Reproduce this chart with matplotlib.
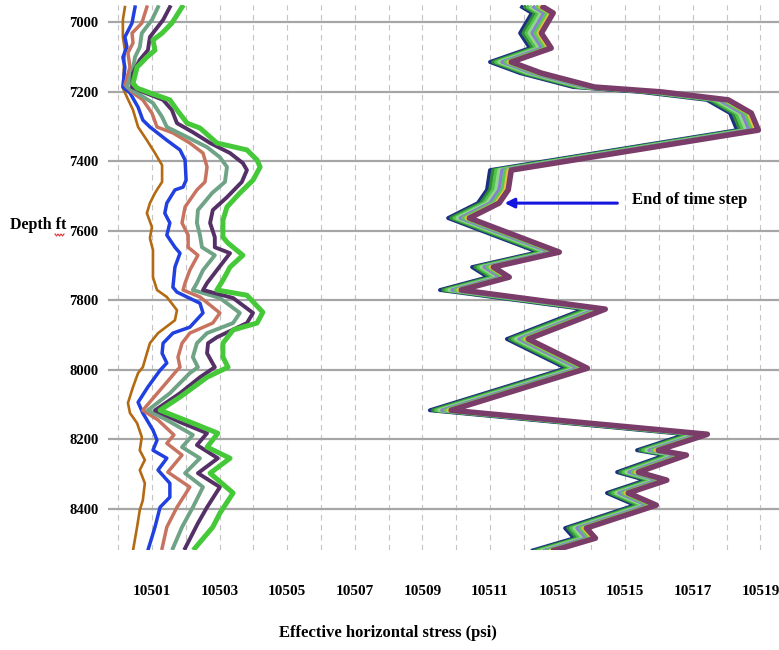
import matplotlib
matplotlib.use("Agg")
import matplotlib.pyplot as plt
from matplotlib.lines import Line2D
import numpy as np

plt.rcParams['font.family'] = ['Liberation Serif', 'DejaVu Serif']
plt.rcParams['font.weight'] = 'bold'

# stress profiles during the early time steps (left group)
depth_brown = [6957, 6994, 7043, 7081, 7130, 7190, 7216, 7253, 7302, 7340, 7377, 7412, 7460, 7478,
               7492, 7521, 7550, 7590, 7622, 7656, 7734, 7771, 7791, 7829, 7858, 7895, 7924, 7953,
               7993, 8010, 8050, 8096, 8125, 8154, 8194, 8232, 8260, 8289, 8327, 8376, 8404, 8453, 8520]
stress_brown = [10500.20, 10500.14, 10500.14, 10500.20, 10500.17, 10500.14, 10500.26, 10500.44,
                10500.59, 10500.85, 10501.09, 10501.30, 10501.30, 10501.18, 10501.09, 10500.94,
                10500.85, 10501.00, 10500.94, 10501.03, 10501.03, 10501.15, 10501.44, 10501.74,
                10501.68, 10501.18, 10500.94, 10500.85, 10500.73, 10500.59, 10500.44, 10500.29,
                10500.35, 10500.56, 10500.70, 10500.64, 10500.79, 10500.64, 10500.79, 10500.73,
                10500.64, 10500.56, 10500.44]

depth_blue = [6957, 7003, 7043, 7072, 7101, 7130, 7187, 7204, 7245, 7282, 7302, 7340, 7368, 7397,
              7455, 7475, 7483, 7521, 7550, 7578, 7613, 7648, 7665, 7705, 7763, 7777, 7809, 7837,
              7878, 7895, 7924, 7953, 7981, 8002, 8050, 8094, 8125, 8174, 8203, 8232, 8255, 8289,
              8327, 8367, 8396, 8453, 8520]
stress_blue = [10500.50, 10500.41, 10500.20, 10500.26, 10500.14, 10500.20, 10500.14, 10500.35,
               10500.59, 10500.73, 10500.94, 10501.44, 10501.83, 10501.98, 10502.01, 10501.92,
               10501.68, 10501.44, 10501.38, 10501.53, 10501.44, 10501.68, 10501.83, 10501.68,
               10501.62, 10501.74, 10502.42, 10502.51, 10502.12, 10501.62, 10501.33, 10501.30,
               10501.44, 10501.24, 10500.88, 10500.59, 10500.73, 10501.03, 10501.15, 10501.03,
               10501.44, 10501.18, 10501.53, 10501.53, 10501.24, 10501.09, 10500.88]

depth_salmon = [6957, 7003, 7032, 7060, 7089, 7130, 7181, 7204, 7224, 7262, 7302, 7319, 7348, 7377,
                7417, 7460, 7483, 7532, 7578, 7613, 7648, 7671, 7714, 7751, 7771, 7791, 7837, 7866,
                7895, 7924, 7964, 7993, 8002, 8059, 8117, 8145, 8188, 8212, 8246, 8295, 8338, 8396,
                8453, 8514]
stress_salmon = [10500.85, 10500.70, 10500.41, 10500.44, 10500.29, 10500.35, 10500.20, 10500.44,
                 10500.73, 10501.00, 10501.15, 10501.62, 10502.12, 10502.51, 10502.63, 10502.57,
                 10502.33, 10501.98, 10501.89, 10502.07, 10502.07, 10502.36, 10502.12, 10501.98,
                 10501.92, 10502.42, 10503.01, 10502.80, 10502.12, 10501.89, 10501.77, 10501.83,
                 10501.74, 10501.24, 10500.73, 10501.18, 10501.65, 10501.44, 10501.89, 10501.47,
                 10502.12, 10501.74, 10501.44, 10501.30]

depth_sea = [6957, 6994, 7032, 7072, 7101, 7147, 7187, 7204, 7233, 7273, 7302, 7331, 7360, 7389,
             7417, 7460, 7492, 7541, 7578, 7613, 7648, 7671, 7714, 7751, 7771, 7794, 7837, 7866,
             7895, 7924, 7964, 7993, 8010, 8068, 8117, 8145, 8188, 8223, 8255, 8298, 8338, 8396,
             8453, 8514]
stress_sea = [10501.18, 10501.00, 10500.70, 10500.64, 10500.50, 10500.41, 10500.26, 10500.56,
              10501.03, 10501.30, 10501.44, 10502.04, 10502.63, 10503.01, 10503.22, 10503.16,
              10502.78, 10502.36, 10502.33, 10502.42, 10502.48, 10502.86, 10502.51, 10502.33,
              10502.21, 10503.01, 10503.60, 10503.40, 10502.63, 10502.33, 10502.21, 10502.36,
              10502.12, 10501.53, 10500.88, 10501.44, 10502.21, 10501.89, 10502.42, 10501.98,
              10502.51, 10502.21, 10501.89, 10501.62]

depth_purple = [6957, 6994, 7043, 7081, 7109, 7147, 7187, 7201, 7224, 7253, 7291, 7317, 7348, 7377,
                7406, 7426, 7460, 7504, 7541, 7578, 7619, 7648, 7665, 7714, 7751, 7771, 7794, 7837,
                7866, 7907, 7924, 7953, 7993, 8022, 8068, 8117, 8151, 8183, 8217, 8255, 8298, 8338,
                8396, 8442, 8514]
stress_purple = [10501.53, 10501.33, 10500.94, 10500.88, 10500.64, 10500.44, 10500.41, 10500.73,
                 10501.33, 10501.59, 10501.74, 10502.21, 10502.72, 10503.31, 10503.69, 10503.81,
                 10503.66, 10503.22, 10502.80, 10502.72, 10502.86, 10502.86, 10503.31, 10502.92,
                 10502.63, 10502.51, 10503.40, 10503.99, 10503.81, 10502.92, 10502.66, 10502.63,
                 10502.86, 10502.42, 10501.83, 10501.09, 10501.83, 10502.63, 10502.33, 10502.95,
                 10502.36, 10503.01, 10502.63, 10502.36, 10501.98]

depth_green = [6957, 7003, 7032, 7052, 7081, 7101, 7130, 7176, 7190, 7204, 7224, 7253, 7291, 7305,
               7348, 7368, 7397, 7417, 7455, 7492, 7532, 7570, 7619, 7636, 7671, 7705, 7743, 7771,
               7786, 7835, 7866, 7886, 7924, 7964, 7993, 8022, 8079, 8117, 8154, 8183, 8223, 8255,
               8298, 8355, 8413, 8453, 8514]
stress_green = [10501.89, 10501.59, 10501.30, 10501.03, 10501.09, 10500.85, 10500.56, 10500.44,
                10500.56, 10500.94, 10501.53, 10501.74, 10502.04, 10502.42, 10502.92, 10503.81,
                10504.11, 10504.20, 10503.99, 10503.60, 10503.22, 10503.10, 10503.10, 10503.25,
                10503.69, 10503.31, 10503.10, 10502.92, 10503.81, 10504.28, 10504.11, 10503.40,
                10503.10, 10503.10, 10503.25, 10502.63, 10501.83, 10501.24, 10502.21, 10502.95,
                10502.63, 10503.31, 10502.72, 10503.40, 10503.01, 10502.80, 10502.27]

# profile at the end of the time step (right group); later steps shift slightly right
depth_end = [6957, 6974, 7032, 7075, 7115, 7147, 7187, 7201, 7224, 7262, 7311, 7426, 7483, 7521,
             7564, 7662, 7705, 7734, 7771, 7826, 7912, 7996, 8117, 8186, 8232, 8246, 8295, 8318,
             8355, 8390, 8456, 8485, 8520]
stress_end = [10511.95, 10512.24, 10511.89, 10512.18, 10511.00, 10511.89, 10513.46, 10515.44,
              10517.42, 10518.10, 10518.31, 10511.00, 10510.91, 10510.64, 10509.76, 10512.42,
              10510.47, 10510.94, 10509.52, 10513.78, 10511.50, 10513.25, 10509.22, 10516.80,
              10515.35, 10516.18, 10514.76, 10515.60, 10514.46, 10515.29, 10513.22, 10513.49,
              10512.27]
end_shifts = [0.0, 0.09, 0.18, 0.27, 0.36, 0.45, 0.54, 0.63]

depth_ticks = [7000, 7200, 7400, 7600, 7800, 8000, 8200, 8400]
stress_ticks = list(range(10500, 10520))

left_group = [
    (depth_brown, stress_brown, '#b36a12', 1.9),
    (depth_blue, stress_blue, '#2040e0', 2.5),
    (depth_salmon, stress_salmon, '#c77360', 2.5),
    (depth_sea, stress_sea, '#6fa385', 2.8),
    (depth_purple, stress_purple, '#553066', 2.8),
    (depth_green, stress_green, '#45c938', 3.6),
]
end_colors = ['#1d2f80', '#2f8a3a', '#52c24a', '#8fd88a', '#8a7fd0', '#5cc85c', '#e8c13c', '#7a3c68']
end_widths = [2.8, 2.6, 2.6, 2.6, 2.6, 2.6, 2.6, 4.0]

fig = plt.figure(figsize=(7.79, 6.5), dpi=100)
ax = fig.add_axes([108 / 779, 1 - 550 / 650, 1 - 108 / 779, 545 / 650])

for d, s, c, lw in left_group:
    ax.plot(s, d, color=c, lw=lw, solid_joinstyle='round', zorder=3)

for shift, c, lw in zip(end_shifts, end_colors, end_widths):
    ax.plot(np.array(stress_end) + shift, depth_end, color=c, lw=lw, zorder=3)

ax.set_xlim(10499.70, 10519.55)
ax.set_ylim(8519, 6951)

ax.set_yticks(depth_ticks)
ax.set_yticklabels([str(d) for d in depth_ticks], fontsize=10.5, fontweight='bold')
ax.set_xticks(stress_ticks)
ax.set_xticklabels([str(v) if v % 2 else '' for v in stress_ticks], fontsize=11, fontweight='bold')
ax.tick_params(axis='x', length=0, pad=25)
ax.tick_params(axis='y', length=0, pad=7)

ax.set_axisbelow(True)
ax.grid(axis='y', color='#a6a6a6', lw=1.6, ls='-')
ax.grid(axis='x', color='#c4c4c4', lw=0.8, ls=(0, (5, 4)))
for sp in ax.spines.values():
    sp.set_visible(False)

ax.annotate('', xy=(10511.35, 7521), xytext=(10514.85, 7521),
            arrowprops=dict(arrowstyle='-|>', color='#1515e0', lw=2.2, mutation_scale=14))
ax.text(10515.2, 7512, 'End of time step', fontsize=12, fontweight='bold',
        ha='left', va='center')

fig.text(10 / 779, 1 - 225 / 650, 'Depth ft', fontsize=11.5, fontweight='bold', ha='left', va='center')
fig.text(388 / 779, 1 - 633 / 650, 'Effective horizontal stress (psi)', fontsize=12,
         fontweight='bold', ha='center', va='center')

# spell-check squiggle under "ft"
sx = np.linspace(55, 64, 7) / 779
sy = (1 - np.array([234, 236, 234, 236, 234, 236, 234]) / 650)
fig.add_artist(Line2D(sx, sy, color='#e03030', lw=0.8))

fig.savefig('out.png', dpi=100)
